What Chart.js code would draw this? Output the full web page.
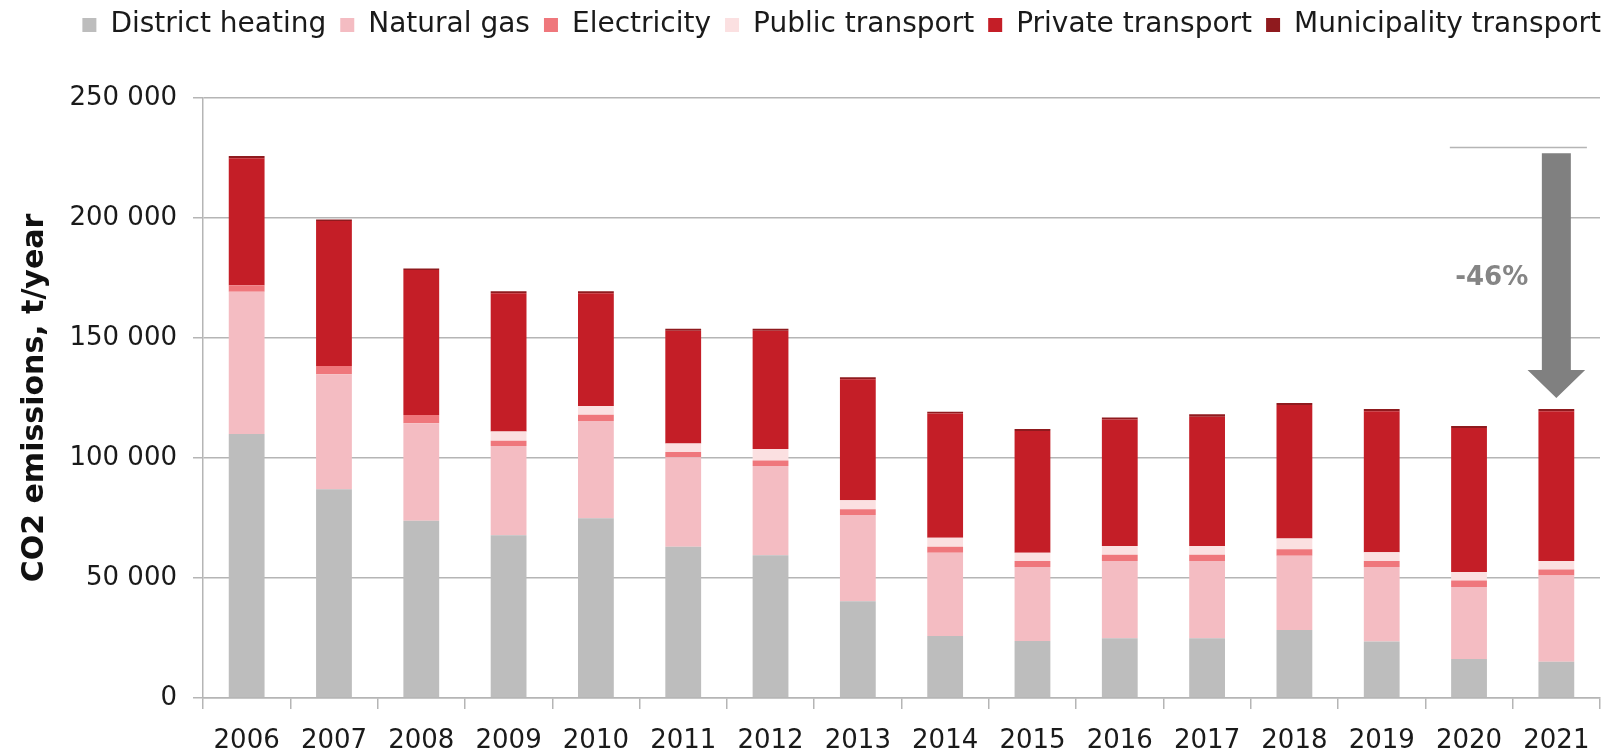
<!DOCTYPE html>
<html>
<head>
<meta charset="utf-8">
<script src="https://cdn.jsdelivr.net/npm/chart.js@4.4.1/dist/chart.umd.min.js"></script>
<style>
html,body{margin:0;padding:0;background:#fff;}
#wrap{position:relative;width:1621px;height:754px;}
</style>
</head>
<body>
<div id="wrap"><canvas id="c"></canvas></div>
<script>
// ---- data ----
const years = ['2006','2007','2008','2009','2010','2011','2012','2013','2014','2015','2016','2017','2018','2019','2020','2021'];
const districtHeating       = [110000, 87000, 73900, 67800, 74900, 63000, 59500, 40300, 25800, 23700, 24900, 24900, 28300, 23500, 16300, 15100];
const naturalGas            = [59300, 47900, 40600, 37200, 40500, 37300, 37200, 36000, 34700, 30900, 32200, 32200, 31000, 31100, 30000, 35900];
const electricity           = [2700, 3400, 3400, 2200, 2600, 2200, 2300, 2300, 2500, 2500, 2600, 2600, 2700, 2500, 2700, 2500];
const publicTransport       = [0, 0, 0, 3800, 3700, 3500, 4700, 3800, 3800, 3400, 3600, 3600, 4500, 3600, 3500, 3600];
const privateTransport      = [52900, 60500, 60400, 57600, 46900, 47000, 49300, 50400, 51700, 50700, 52700, 53900, 55600, 58800, 60000, 62400];
const municipalityTransport = [900, 600, 700, 900, 900, 900, 900, 800, 800, 900, 900, 1000, 800, 900, 800, 900];
const seriesNames = ['District heating','Natural gas','Electricity','Public transport','Private transport','Municipality transport'];
const yTickValues = [0, 50000, 100000, 150000, 200000, 250000];
const yTitle = 'CO2 emissions, t/year';
const changeLabel = '-46%';
const changeTop = 227000;   // arrow start (value)
const changeTip = 125000;   // arrow tip (value)
const refLevel = 229500;    // reference line (value)
const changeLabelLevel = 175000;

// ---- styles ----
const colors = ['#bdbdbd','#f4bcc2','#ef777c','#fbe0e1','#c41e27','#8f1a1e'];
const FONT = '"DejaVu Sans", sans-serif';
const seriesData = [districtHeating, naturalGas, electricity, publicTransport, privateTransport, municipalityTransport];

const fmt = v => String(v).replace(/\B(?=(\d{3})+(?!\d))/g, ' ');

const LEGEND_HEIGHT = 98;
const LEGEND_SHIFT_X = 15;
const LEGEND_SHIFT_Y = -3;

const legendFitPlugin = {
  id: 'legendFit',
  beforeInit(chart) {
    const lg = chart.legend;
    if (!lg) return;
    const orig = lg.fit.bind(lg);
    lg.fit = function () { orig(); this.height = LEGEND_HEIGHT; };
  },
  afterLayout(chart) {
    const lg = chart.legend;
    if (!lg) return;
    lg.left += LEGEND_SHIFT_X; lg.right += LEGEND_SHIFT_X;
    lg.top += LEGEND_SHIFT_Y; lg.bottom += LEGEND_SHIFT_Y;
  }
};

const arrowPlugin = {
  id: 'arrowPlugin',
  afterDatasetsDraw(chart) {
    const {ctx, scales: {x, y}} = chart;
    const idx = years.length - 1;
    const cx = x.getPixelForValue(idx);
    const cw = x.getPixelForValue(1) - x.getPixelForValue(0);
    ctx.save();
    ctx.strokeStyle = '#b5b5b5';
    ctx.lineWidth = 1.5;
    const ly = Math.round(y.getPixelForValue(refLevel)) + 0.5;
    ctx.beginPath();
    ctx.moveTo(cx - 1.22 * cw, ly);
    ctx.lineTo(cx + 0.35 * cw, ly);
    ctx.stroke();
    const yTop = y.getPixelForValue(changeTop);
    const yTip = y.getPixelForValue(changeTip);
    const shaftHalf = 0.166 * cw;
    const headHalf = 0.33 * cw;
    const headLen = 0.32 * cw;
    ctx.fillStyle = '#808080';
    ctx.beginPath();
    ctx.moveTo(cx - shaftHalf, yTop);
    ctx.lineTo(cx + shaftHalf, yTop);
    ctx.lineTo(cx + shaftHalf, yTip - headLen);
    ctx.lineTo(cx + headHalf, yTip - headLen);
    ctx.lineTo(cx, yTip);
    ctx.lineTo(cx - headHalf, yTip - headLen);
    ctx.lineTo(cx - shaftHalf, yTip - headLen);
    ctx.closePath();
    ctx.fill();
    ctx.fillStyle = '#858585';
    ctx.font = 'bold 26px ' + FONT;
    ctx.textAlign = 'center';
    ctx.textBaseline = 'middle';
    ctx.fillText(changeLabel, cx - 0.74 * cw, y.getPixelForValue(changeLabelLevel));
    ctx.restore();
  }
};

new Chart(document.getElementById('c'), {
  type: 'bar',
  data: {
    labels: years,
    datasets: seriesNames.map((n, i) => ({
      label: n,
      data: seriesData[i],
      backgroundColor: colors[i],
      borderWidth: 0,
      barPercentage: 0.41,
      categoryPercentage: 1.0
    }))
  },
  options: {
    responsive: true,
    maintainAspectRatio: false,
    animation: false,
    devicePixelRatio: 1,
    layout: { padding: { left: 0, right: 21, top: 0, bottom: 0 } },
    plugins: {
      legend: {
        position: 'top',
        align: 'end',
        labels: {
          color: '#1a1a1a',
          font: { family: FONT, size: 28 },
          boxWidth: 14,
          boxHeight: 14,
          padding: 14
        }
      },
      tooltip: { enabled: false },
      title: { display: false }
    },
    scales: {
      x: {
        stacked: true,
        grid: {
          display: true,
          drawOnChartArea: false,
          drawTicks: true,
          tickLength: 11,
          color: '#b5b5b5',
          lineWidth: 1.5,
          offset: true
        },
        border: { display: true, color: '#b5b5b5', width: 1.5 },
        ticks: {
          color: '#1a1a1a',
          font: { family: FONT, size: 26 },
          padding: 17,
          maxRotation: 0,
          autoSkip: false
        },
        afterFit(s) { s.height = 56; }
      },
      y: {
        stacked: true,
        min: 0,
        max: 250000,
        afterBuildTicks(s) { s.ticks = yTickValues.map(v => ({ value: v })); },
        grid: {
          color: '#b5b5b5',
          lineWidth: 1.5,
          drawTicks: true,
          tickLength: 10
        },
        border: { display: true, color: '#b5b5b5', width: 1.5 },
        ticks: {
          color: '#1a1a1a',
          font: { family: FONT, size: 26 },
          padding: 16,
          callback: v => fmt(v)
        },
        title: {
          display: true,
          text: yTitle,
          color: '#111',
          font: { family: FONT, size: 30, weight: 'bold' },
          padding: { top: 17, bottom: 0 }
        },
        afterFit(s) { s.width = 203; }
      }
    }
  },
  plugins: [legendFitPlugin, arrowPlugin]
});
</script>
</body>
</html>
